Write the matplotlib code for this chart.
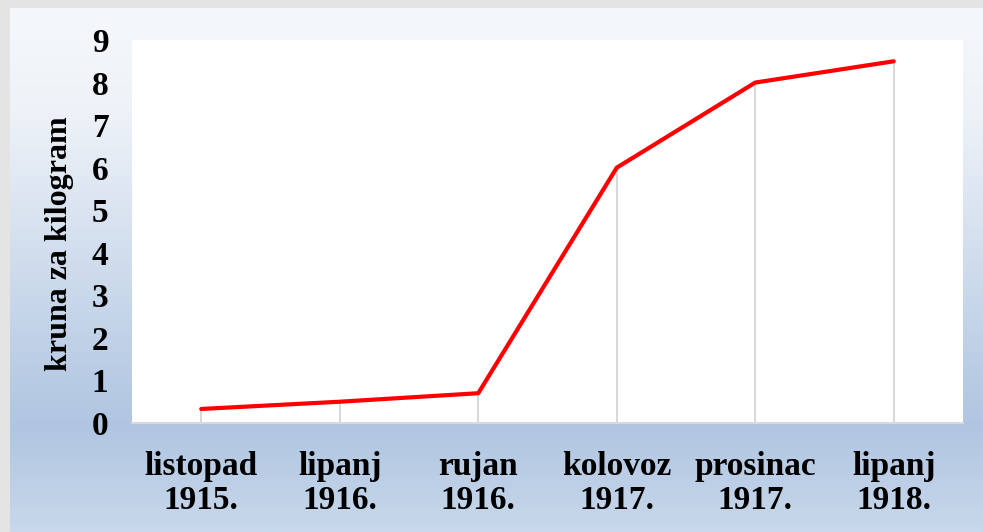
import numpy as np
import matplotlib.pyplot as plt
from matplotlib.colors import LinearSegmentedColormap

plt.rcParams["font.family"] = ["Liberation Serif", "DejaVu Serif"]
plt.rcParams["font.weight"] = "bold"

# ── Data ──────────────────────────────────────────────────────────────────────
periods = ["listopad\n1915.", "lipanj\n1916.", "rujan\n1916.",
           "kolovoz\n1917.", "prosinac\n1917.", "lipanj\n1918."]
price = [0.33, 0.5, 0.7, 6.0, 8.0, 8.5]
y_ticks = list(range(0, 10))

W, H = 983, 532
fig = plt.figure(figsize=(W / 100, H / 100), dpi=100)
fig.patch.set_facecolor("#e4e4e4")

# gradient background panel (top light -> blue -> slightly lighter bottom)
bg = fig.add_axes([10 / W, 0, 1 - 10 / W, 1 - 8 / H])
bg.set_axis_off()
grad = LinearSegmentedColormap.from_list(
    "bg", [(0.0, "#f5f8fb"), (0.2, "#eef2f8"), (0.8, "#afc5e1"), (1.0, "#c9d8eb")])
bg.imshow(np.linspace(0, 1, 256)[:, None], aspect="auto", cmap=grad,
          origin="upper", extent=(0, 1, 0, 1))

ax = fig.add_axes([132 / W, 1 - 423 / H, (963 - 132) / W, (423 - 40) / H])
ax.set_facecolor("white")
x = np.arange(len(periods))

ax.vlines(x, 0, price, color="#d9d9d9", linewidth=1.5, zorder=1)
ax.plot(x, price, color="#ff0000", linewidth=3.0, solid_capstyle="round",
        solid_joinstyle="round", zorder=3)

ax.set_xlim(-0.5, len(periods) - 0.5)
ax.set_ylim(0, 9)
ax.set_yticks(y_ticks)
ax.set_xticks(x)
ax.set_xticklabels(periods, fontsize=24, fontweight="bold", linespacing=1.12)
ax.tick_params(axis="y", length=0, pad=17, labelsize=24)
ax.tick_params(axis="x", length=0, pad=20)
for lbl in ax.get_yticklabels():
    lbl.set_fontweight("bold")

for side in ("top", "right", "left"):
    ax.spines[side].set_visible(False)
ax.spines["bottom"].set_color("#d9d9d9")
ax.spines["bottom"].set_linewidth(1.5)

ax.set_ylabel("kruna za kilogram", fontsize=23, fontweight="bold")
ax.yaxis.set_label_coords(-0.07, 0.467)

fig.savefig("out.png", dpi=100)
